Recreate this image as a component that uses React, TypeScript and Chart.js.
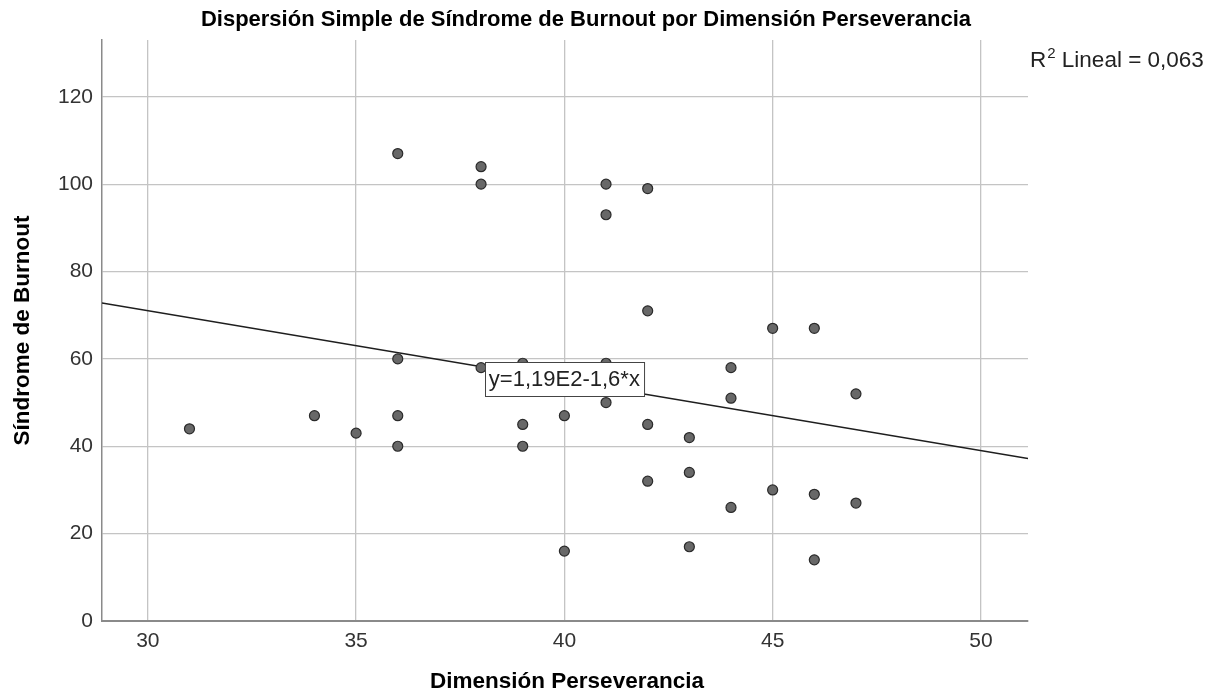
import React, { useEffect, useRef } from "react";
import { Chart, registerables } from "chart.js";

Chart.register(...registerables);

const chartTitle = "Dispersión Simple de Síndrome de Burnout por Dimensión Perseverancia";
const xAxisTitle = "Dimensión Perseverancia";
const yAxisTitle = "Síndrome de Burnout";
const r2Label = ["R", "2", " Lineal = 0,063"];
const equationLabel = "y=1,19E2-1,6*x";

const perseveranciaValues = [
  31, 34, 35, 36, 36, 36, 36, 38, 38, 38, 39, 39, 39, 40, 40, 41, 41, 41, 41,
  42, 42, 42, 42, 43, 43, 43, 44, 44, 44, 45, 45, 46, 46, 46, 47, 47,
];
const burnoutValues = [
  44, 47, 43, 107, 60, 47, 40, 104, 100, 58, 59, 45, 40, 47, 16, 100, 93, 59, 50,
  99, 71, 45, 32, 42, 34, 17, 58, 51, 26, 67, 30, 67, 29, 14, 52, 27,
];

// Fit line endpoints (at the axis bounds)
const fitLineX = [28.9, 51.13];
const fitLineY = [72.8, 37.2];

// Equation label anchor (data coords)
const equationAnchor = { x: 40, y: 55.3 };

const xMin = 28.9;
const xMax = 51.13;
const yMin = 0;
const yMax = 133;

const FONT = '"Liberation Sans", Arial, Helvetica, sans-serif';

const textPlugin = {
  id: "spssTexts",
  afterDraw(chart: any) {
    const ctx: CanvasRenderingContext2D = chart.ctx;
    const area = chart.chartArea;
    const xs = chart.scales.x;
    const ys = chart.scales.y;
    ctx.save();

    // Title
    ctx.fillStyle = "#000";
    ctx.textAlign = "center";
    ctx.textBaseline = "middle";
    ctx.font = `bold 22px ${FONT}`;
    ctx.fillText(chartTitle, 586, 20);

    // X axis title
    ctx.font = `bold 22.5px ${FONT}`;
    ctx.fillText(xAxisTitle, 567, 682);

    // Y axis title
    ctx.save();
    ctx.translate(23, (area.top + area.bottom) / 2);
    ctx.rotate(-Math.PI / 2);
    ctx.fillText(yAxisTitle, 0, 0);
    ctx.restore();

    // R² label
    ctx.textAlign = "left";
    ctx.textBaseline = "alphabetic";
    ctx.fillStyle = "#222";
    let cx = 1030;
    ctx.font = `22.5px ${FONT}`;
    ctx.fillText(r2Label[0], cx, 67);
    cx += ctx.measureText(r2Label[0]).width + 1;
    ctx.font = `15px ${FONT}`;
    ctx.fillText(r2Label[1], cx, 58);
    cx += ctx.measureText(r2Label[1]).width;
    ctx.font = `22.5px ${FONT}`;
    ctx.fillText(r2Label[2], cx, 67);

    // Equation box
    const ex = xs.getPixelForValue(equationAnchor.x);
    const ey = ys.getPixelForValue(equationAnchor.y);
    ctx.font = `22px ${FONT}`;
    const tw = ctx.measureText(equationLabel).width;
    const bw = tw + 8;
    const bh = 34;
    const bx = Math.round(ex - bw / 2) + 0.5;
    const by = Math.round(ey - bh / 2) + 0.5;
    ctx.fillStyle = "#fff";
    ctx.fillRect(bx, by, bw, bh);
    ctx.strokeStyle = "#444";
    ctx.lineWidth = 1;
    ctx.strokeRect(bx, by, bw, bh);
    ctx.fillStyle = "#222";
    ctx.textAlign = "center";
    ctx.textBaseline = "middle";
    ctx.fillText(equationLabel, ex, ey + 1);

    ctx.restore();
  },
};

export default function App() {
  const canvasRef = useRef<HTMLCanvasElement | null>(null);

  useEffect(() => {
    document.body.style.margin = "0";
    const canvas = canvasRef.current;
    if (!canvas) return;
    const points = perseveranciaValues.map((x, i) => ({ x, y: burnoutValues[i] }));
    const linePts = fitLineX.map((x, i) => ({ x, y: fitLineY[i] }));

    const chart = new Chart(canvas, {
      type: "scatter",
      data: {
        datasets: [
          {
            label: "Burnout",
            data: points,
            pointRadius: 5,
            pointHoverRadius: 5,
            pointBackgroundColor: "#686868",
            pointBorderColor: "#2a2a2a",
            pointBorderWidth: 1.2,
            order: 1,
          },
          {
            label: "Lineal",
            data: linePts,
            showLine: true,
            pointRadius: 0,
            borderColor: "#1e1e1e",
            borderWidth: 1.5,
            order: 2,
          },
        ],
      },
      options: {
        responsive: false,
        animation: false,
        devicePixelRatio: 1,
        layout: { padding: { left: 0, top: 40, right: 187, bottom: 0 } },
        plugins: {
          legend: { display: false },
          tooltip: { enabled: false },
          title: { display: false },
        },
        scales: {
          x: {
            type: "linear",
            min: xMin,
            max: xMax,
            afterFit: (s: any) => {
              s.height = 73;
            },
            ticks: {
              stepSize: 5,
              includeBounds: false,
              padding: 8,
              color: "#333",
              font: { family: FONT, size: 21 },
            },
            grid: { color: "#c4c4c4", lineWidth: 1.3, drawTicks: false },
            border: { color: "#8a8a8a", width: 2 },
          },
          y: {
            type: "linear",
            min: yMin,
            max: yMax,
            afterFit: (s: any) => {
              s.width = 102;
            },
            ticks: {
              stepSize: 20,
              includeBounds: false,
              padding: 9,
              color: "#333",
              font: { family: FONT, size: 21 },
            },
            grid: { color: "#c4c4c4", lineWidth: 1.3, drawTicks: false },
            border: { color: "#8a8a8a", width: 1.5 },
          },
        },
      },
      plugins: [textPlugin],
    });
    return () => chart.destroy();
  }, []);

  return (
    <div style={{ position: "absolute", left: 0, top: 0, width: 1215, height: 694, background: "#fff" }}>
      <canvas ref={canvasRef} width={1215} height={694} style={{ display: "block" }} />
    </div>
  );
}
